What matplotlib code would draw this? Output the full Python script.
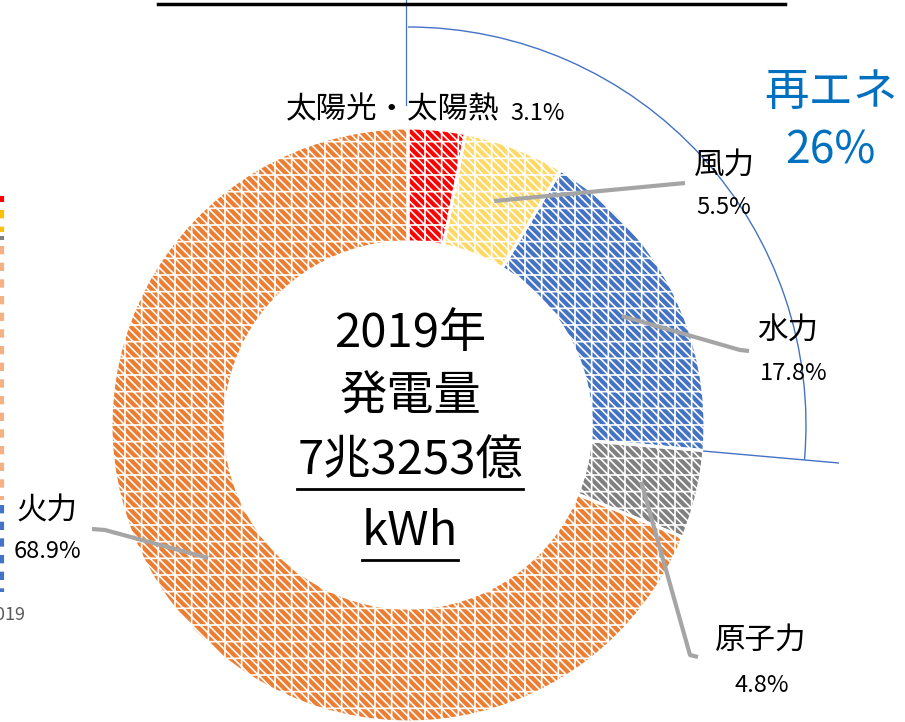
import numpy as np
import matplotlib
matplotlib.use('Agg')
import matplotlib.pyplot as plt
from matplotlib.patches import Wedge, Arc

plt.rcParams['font.family'] = ['Noto Sans CJK JP', 'DejaVu Sans']
plt.rcParams['hatch.linewidth'] = 1.2

# ---- data ----
labels = ['太陽光・太陽熱', '風力', '水力', '原子力', '火力']
shares = [3.1, 5.5, 17.8, 4.8, 68.9]
pct_labels = ['3.1%', '5.5%', '17.8%', '4.8%', '68.9%']
renewable = [True, True, True, False, False]
renewable_text = ['再エネ', '26%']
center_lines = ['2019年', '発電量', '7兆3253億', 'kWh']
underlined = [False, False, True, True]
colors = ['#FF0000', '#FFD966', '#4472C4', '#808080', '#ED7D31']

# ---- layout (image pixel coordinates, y measured from top) ----
W, H = 905, 722
def Y(y):
    return H - y

fig = plt.figure(figsize=(9.05, 7.22), dpi=100)
ax = fig.add_axes([0, 0, 1, 1])

cx, cy = 408, Y(425)
R, ring = 297, 114

wedges, _ = ax.pie(shares, colors=colors, startangle=90,
                   counterclock=False, radius=R, center=(cx, cy),
                   wedgeprops=dict(width=ring, linewidth=0))
for w, c in zip(wedges, colors):
    w.set_facecolor(c)
    w.set_edgecolor('white')
    w.set_linewidth(0)
    w.set_hatch('\\\\\\\\+')
    s = Wedge(w.center, w.r, w.theta1, w.theta2, width=w.width, fill=False,
              edgecolor='white', linewidth=2.2)
    ax.add_patch(s)

ax.set_xlim(0, W)
ax.set_ylim(0, H)
ax.set_aspect('equal')
ax.axis('off')

# ---- labels ----
name_pos = [(393, 110), (724, 165), (788, 331), (761, 640), (47, 511)]
pct_pos = [(538, 113), (724, 207), (794, 374), (762, 686), (47, 552)]
for lab, pct, (nx, ny), (px, py) in zip(labels, pct_labels, name_pos, pct_pos):
    ax.text(nx, Y(ny), lab, ha='center', va='center', fontsize=22, color='black')
    ax.text(px, Y(py), pct, ha='center', va='center', fontsize=17, color='black')

# ---- leader lines from ring middle at wedge mid-angle ----
leader_ends = {1: [(685, 183)],
               2: [(740, 350), (749, 351)],
               3: [(690, 655), (698, 657)],
               4: [(105, 530), (92, 529)]}
cum = np.cumsum([0] + shares[:-1])
rmid = R - ring / 2
for i, pts in leader_ends.items():
    ang = np.deg2rad(360 * (cum[i] + shares[i] / 2) / 100)
    x0 = cx + rmid * np.sin(ang)
    y0 = cy + rmid * np.cos(ang)
    xs = [x0] + [p[0] for p in pts]
    ys = [y0] + [Y(p[1]) for p in pts]
    ax.plot(xs, ys, color='#A5A5A5', lw=3.0, solid_capstyle='butt', zorder=5)

# ---- renewable bracket ----
ren_share = sum(s for s, f in zip(shares, renewable) if f)
bang = 360 * ren_share / 100
ba = np.deg2rad(bang)
R2 = 398
ax.add_patch(Arc((cx, cy), 2 * R2, 2 * R2, theta1=90 - bang, theta2=90,
                 color='#4472C4', lw=1.0))
ax.plot([cx + R * np.sin(ba), cx + (R + 135) * np.sin(ba)],
        [cy + R * np.cos(ba), cy + (R + 135) * np.cos(ba)],
        color='#4472C4', lw=1.0)
ax.plot([cx - 2, cx - 2], [Y(0), Y(105)], color='#4472C4', lw=0.9)
ax.text(831, Y(92), renewable_text[0], ha='center', va='center',
        fontsize=32, color='#0070C0')
ax.text(830, Y(150), renewable_text[1], ha='center', va='center',
        fontsize=32, color='#0070C0')

# ---- centre text ----
cys = [334, 397, 461, 532]
txts = []
for t, yy in zip(center_lines, cys):
    txts.append(ax.text(cx + 2, Y(yy), t, ha='center', va='center',
                        fontsize=34, color='black'))
fig.canvas.draw()
inv = ax.transData.inverted()
for t, u in zip(txts, underlined):
    if u:
        bb = t.get_window_extent()
        (x0, y0), (x1, y1) = inv.transform([(bb.x0, bb.y0), (bb.x1, bb.y1)])
        ax.plot([x0, x1], [y0 - 4, y0 - 4], color='black', lw=2.0)

# ---- clipped fragments at the edges ----
ax.plot([158, 785], [Y(4), Y(4)], color='black', lw=2.5)
frag = [('#FF0000', 196, 202), ('#FFC000', 210, 232), ('#808080', 236, 240),
        ('#F4B183', 246, 500), ('#4472C4', 505, 592)]
for c, a, b in frag:
    ax.plot([1.5, 1.5], [Y(a), Y(b)], color=c, lw=3, ls=(0, (2, 2)))
ax.text(25, Y(615), '2019', ha='right', va='center', fontsize=13, color='#595959')

fig.savefig('out.png', dpi=100)
